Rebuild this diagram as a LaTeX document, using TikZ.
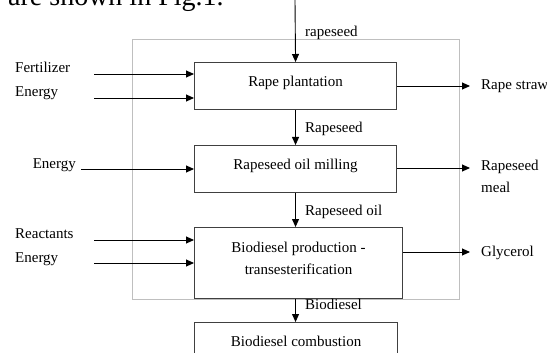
\documentclass[tikz,border=0pt]{standalone}
\usepackage{fontspec}
\setmainfont{Liberation Serif}
\usetikzlibrary{arrows.meta}

\begin{document}
\begin{tikzpicture}[x=1pt, y=-1pt,
          every node/.style={font=\fontsize{15}{22}\selectfont, inner sep=2pt},
          flow/.style={line width=0.9pt, -{Triangle[length=8pt, width=7pt]}},
          procbox/.style={draw=black!75, line width=1.1pt, anchor=north west,
            align=center, fill=white, text height=10pt, text depth=9pt},
        ]
          \useasboundingbox (0,0) rectangle (547,353);
          \clip (0,0) rectangle (547,353);
          \node[anchor=base west, font=\fontsize{28}{30}\selectfont, inner sep=0pt]
            (intro) at (8,6) {are shown in Fig.1.};
          % system boundary
          \draw[black!25, line width=0.7pt] (132,39) rectangle (459,299);
          % process steps
          \node[procbox, minimum width=202pt, minimum height=47pt] (plant) at (194,62) {Rape plantation};
          \node[procbox, minimum width=202pt, minimum height=47pt] (mill)  at (194,145) {Rapeseed oil milling};
          \node[procbox, minimum width=208pt, minimum height=71pt, text height=32pt] (trans) at (194,227)
            {Biodiesel production -\\transesterification};
          \node[procbox, minimum width=203pt, minimum height=46pt] (comb)  at (194,322) {Biodiesel combustion};
          % main chain
          \coordinate (seed) at (295,0);
          \draw[flow] (seed) -- (plant.north);
          \draw[flow] (plant.south) -- (mill.north);
          \draw[flow] (mill.south) -- (mill.south |- trans.north);
          \draw[flow] (mill.south |- trans.south) -- (mill.south |- comb.north);
          \node[anchor=base west] (lseed) at (303,37)  {rapeseed};
          \node[anchor=base west] (lrape) at (303,132) {Rapeseed};
          \node[anchor=base west] (loil)  at (303,215) {Rapeseed oil};
          \node[anchor=base west] (lbio)  at (303,309) {Biodiesel};
          % inputs
          \coordinate (in1) at (94,74);
          \coordinate (in2) at (94,98);
          \coordinate (in3) at (81,169);
          \coordinate (in4) at (94,240);
          \coordinate (in5) at (94,263);
          \draw[flow] (in1) -- (in1 -| plant.west);
          \draw[flow] (in2) -- (in2 -| plant.west);
          \draw[flow] (in3) -- (in3 -| mill.west);
          \draw[flow] (in4) -- (in4 -| trans.west);
          \draw[flow] (in5) -- (in5 -| trans.west);
          \node[anchor=base west] (fert)  at (13,73)  {Fertilizer};
          \node[anchor=base west] (en1)   at (13,97)  {Energy};
          \node[anchor=base east] (en2)   at (78,168) {Energy};
          \node[anchor=base west] (react) at (13,238) {Reactants};
          \node[anchor=base west] (en3)   at (13,262) {Energy};
          % outputs
          \coordinate (out1) at (470,86);
          \coordinate (out2) at (470,168);
          \coordinate (out3) at (470,252);
          \draw[flow] (out1 -| plant.east) -- (out1);
          \draw[flow] (out2 -| mill.east) -- (out2);
          \draw[flow] (out3 -| trans.east) -- (out3);
          \node[anchor=base west] (straw) at (479,90) {Rape straw};
          \node[anchor=base west, align=left] (meal) at (479,193) {Rapeseed\\meal};
          \node[anchor=base west] (glyc) at (479,256) {Glycerol};
        \end{tikzpicture}
\end{document}
